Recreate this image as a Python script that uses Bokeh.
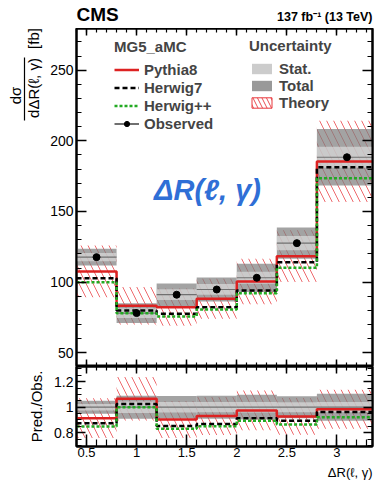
import numpy as np
from bokeh.plotting import figure
from bokeh.layouts import column, row
from bokeh.models import (ColumnDataSource, FixedTicker, LinearAxis, Label, Legend,
                          LegendItem, Range1d, CustomLabelingPolicy)
from bokeh.embed import file_html
from bokeh.resources import INLINE

# ---------------- data ----------------
bin_edges = [0.4, 0.8, 1.2, 1.6, 2.0, 2.4, 2.8, 3.4]
observed = [117.7, 78.1, 91.1, 94.8, 103.1, 127.6, 188.4]
stat_unc = [3.0, 3.5, 3.8, 3.8, 4.2, 5.0, 7.5]
total_unc = [6.0, 7.0, 8.0, 8.5, 10.0, 11.0, 20.0]
pythia8 = [107.6, 83.3, 82.3, 88.2, 100.5, 118.4, 185.4]
herwig7 = [102.8, 80.0, 77.6, 82.3, 94.1, 114.1, 181.3]
herwigpp = [100.0, 78.0, 75.7, 80.7, 92.2, 110.2, 173.5]
theory_rel_unc = [0.17, 0.16, 0.16, 0.16, 0.16, 0.155, 0.155]

x_ticks = [0.5, 1.0, 1.5, 2.0, 2.5, 3.0]
x_tick_labels = ["0.5", "1", "1.5", "2", "2.5", "3"]
top_y_ticks = [50, 100, 150, 200, 250]
top_y_tick_labels = ["50", "100", "150", "200", "250"]
ratio_y_ticks = [0.8, 1.0, 1.2]
ratio_y_tick_labels = ["0.8", "1", "1.2"]

# ---------------- derived ----------------
lo = np.array(bin_edges[:-1])
hi = np.array(bin_edges[1:])
obs = np.array(observed)
st = np.array(stat_unc)
tot = np.array(total_unc)
py = np.array(pythia8)
h7 = np.array(herwig7)
hpp = np.array(herwigpp)
thr = np.array(theory_rel_unc)

FONT = "Liberation Sans"
RED = "#dd2222"
GREEN = "#22aa22"
HATCH = "#e8383d"
DASH = "5 3"
DOT = "3 2"
NAN = [np.nan]

x_minor = [round(v, 2) for v in np.arange(0.4, 3.41, 0.1)]


def make_fig(width, height, y_range, border_bottom):
    p = figure(width=width, height=height, x_range=Range1d(0.4, 3.355),
               y_range=Range1d(*y_range), output_backend="svg", toolbar_location=None,
               min_border_left=31, min_border_right=5, min_border_top=0,
               min_border_bottom=border_bottom, x_axis_location=None, y_axis_location=None)
    p.grid.visible = False
    p.outline_line_color = "black"
    p.outline_line_width = 2
    p.background_fill_color = "white"
    p.border_fill_color = "white"
    return p


def text_fig(width, height):
    f = figure(width=width, height=height, x_range=Range1d(0, width),
               y_range=Range1d(0, height), output_backend="svg", toolbar_location=None,
               min_border=0, x_axis_location=None, y_axis_location=None)
    f.grid.visible = False
    f.outline_line_color = None
    f.background_fill_color = "white"
    f.border_fill_color = "white"
    return f


def add_axis(p, side, ticker, tick_in, minor_in, overrides=None, size="14px", standoff=3):
    ax = LinearAxis(ticker=ticker, major_tick_in=tick_in, major_tick_out=0,
                    minor_tick_in=minor_in, minor_tick_out=0, axis_line_width=2,
                    major_tick_line_width=1.5, minor_tick_line_width=1.2)
    if overrides is not None:
        ax.major_label_overrides = overrides
        ax.major_label_text_font = FONT
        ax.major_label_text_font_size = size
        ax.major_label_text_color = "black"
        ax.major_label_standoff = standoff
    else:
        ax.major_label_policy = CustomLabelingPolicy(code="return []")
        ax.major_label_text_font_size = "0px"
        ax.major_label_standoff = 0
    p.add_layout(ax, side)
    return ax


def lab(p, text, x, y, size, angle=0.0, align="center", style="normal", color="black"):
    p.add_layout(Label(x=x, y=y, x_units="screen", y_units="screen", text=text,
                       angle=angle, text_align=align, text_baseline="middle",
                       text_font=FONT, text_font_size=f"{size}px",
                       text_font_style=style, text_color=color))


def draw_panel(p, scale):
    """scale: array to divide values by (1 for absolute, obs for ratio)"""
    src = ColumnDataSource(dict(
        left=lo, right=hi,
        th_lo=py * (1 - thr) / scale, th_hi=py * (1 + thr) / scale,
        tot_lo=(obs - tot) / scale, tot_hi=(obs + tot) / scale,
        st_lo=(obs - st) / scale, st_hi=(obs + st) / scale,
        obs=obs / scale, mid=(lo + hi) / 2,
    ))
    p.quad(left="left", right="right", bottom="th_lo", top="th_hi", source=src,
           fill_alpha=0, line_alpha=0, hatch_pattern="\\", hatch_color=HATCH,
           hatch_alpha=0.75, hatch_scale=14, hatch_weight=1)
    p.quad(left="left", right="right", bottom="tot_lo", top="tot_hi", source=src,
           fill_color="#808080", fill_alpha=0.72, line_alpha=0)
    p.quad(left="left", right="right", bottom="st_lo", top="st_hi", source=src,
           fill_color="#dadada", fill_alpha=0.7, line_alpha=0)
    p.segment(x0="left", x1="right", y0="obs", y1="obs", source=src,
              line_color="#707070", line_width=1.2)
    sc = np.append(scale, scale[-1]) if np.ndim(scale) else scale
    p.step(bin_edges, np.append(py, py[-1]) / sc, mode="after",
           line_color=RED, line_width=2.5)
    p.step(bin_edges, np.append(h7, h7[-1]) / sc, mode="after",
           line_color="black", line_width=2.5, line_dash=DASH)
    p.step(bin_edges, np.append(hpp, hpp[-1]) / sc, mode="after",
           line_color=GREEN, line_width=2.5, line_dash=DOT)
    return src


# ---------------- top panel (frame: x 76..372, y 28..366) ----------------
p = make_fig(332, 338, (40.3, 279.5), 0)
x_ticker = FixedTicker(ticks=x_ticks, minor_ticks=x_minor)
ty_ticker = FixedTicker(ticks=top_y_ticks,
                        minor_ticks=[v for v in range(40, 281, 10)])
add_axis(p, "above", x_ticker, 7, 4)
add_axis(p, "below", x_ticker, 7, 4)
add_axis(p, "left", ty_ticker, 10, 5,
         overrides={t: l for t, l in zip(top_y_ticks, top_y_tick_labels)}, size="14px")
add_axis(p, "right", ty_ticker, 10, 5)

src = draw_panel(p, 1.0)
p.scatter(x="mid", y="obs", source=src, size=7, color="black")

# legend-only renderers (NaN data, never visible in the plot)
l_obs_line = p.line(NAN, NAN, line_color="#707070", line_width=2)
l_obs_pt = p.scatter(NAN, NAN, size=7, color="black")
l_py = p.line(NAN, NAN, line_color=RED, line_width=2.5)
l_h7 = p.line(NAN, NAN, line_color="black", line_width=2.5, line_dash=DASH)
l_hpp = p.line(NAN, NAN, line_color=GREEN, line_width=2.5, line_dash=DOT)
l_stat = p.quad(left=NAN, right=NAN, top=NAN, bottom=NAN, fill_color="#cccccc",
                line_alpha=0)
l_tot = p.quad(left=NAN, right=NAN, top=NAN, bottom=NAN, fill_color="#999999",
               line_alpha=0)
l_th = p.quad(left=NAN, right=NAN, top=NAN, bottom=NAN, fill_alpha=0, line_color=HATCH,
              line_width=1, hatch_pattern="\\", hatch_color=HATCH, hatch_alpha=0.9,
              hatch_scale=9, hatch_weight=1)


def style_legend(lg, spacing):
    lg.title_text_font = FONT
    lg.title_text_font_style = "bold"
    lg.title_text_font_size = "15px"
    lg.label_text_font = FONT
    lg.label_text_font_style = "bold"
    lg.label_text_font_size = "15px"
    lg.glyph_width = 25
    lg.glyph_height = 13
    lg.label_height = 13
    lg.label_standoff = 5
    lg.spacing = spacing
    lg.padding = 0
    lg.margin = 0
    lg.title_standoff = 6
    lg.border_line_alpha = 0
    lg.background_fill_alpha = 0


leg1 = Legend(items=[LegendItem(label="Pythia8", renderers=[l_py]),
                     LegendItem(label="Herwig7", renderers=[l_h7]),
                     LegendItem(label="Herwig++", renderers=[l_hpp]),
                     LegendItem(label="Observed", renderers=[l_obs_line, l_obs_pt])],
              title="MG5_aMC", location=(38, 234))
style_legend(leg1, 1)
leg2 = Legend(items=[LegendItem(label="Stat.", renderers=[l_stat]),
                     LegendItem(label="Total", renderers=[l_tot]),
                     LegendItem(label="Theory", renderers=[l_th])],
              title="Uncertainty", location=(173, 255))
style_legend(leg2, 0)
p.add_layout(leg1)
p.add_layout(leg2)

lab(p, "\u0394R(\u2113, \u03b3)", 131, 177, 29, style="bold italic", color="#2f6fd6")

# ---------------- ratio panel (frame: x 76..372, y 366..446) ----------------
r = make_fig(332, 97, (0.692, 1.319), 17)
ry_ticker = FixedTicker(ticks=ratio_y_ticks,
                        minor_ticks=[round(v, 2) for v in np.arange(0.7, 1.33, 0.05)])
add_axis(r, "above", x_ticker, 7, 4)
add_axis(r, "below", x_ticker, 12, 7,
         overrides={t: l for t, l in zip(x_ticks, x_tick_labels)}, size="13px", standoff=1)
add_axis(r, "left", ry_ticker, 9, 5,
         overrides={t: l for t, l in zip(ratio_y_ticks, ratio_y_tick_labels)}, size="14px")
add_axis(r, "right", ry_ticker, 9, 5)
draw_panel(r, obs)

# ---------------- text strips around the panels ----------------
header = text_fig(377, 28)            # covers y 0..28
lab(header, "CMS", 76, 14, 19, align="left", style="bold")
lab(header, "137 fb\u207b\u00b9 (13 TeV)", 372, 12, 12.5, align="right", style="bold")

ylab = text_fig(45, 435)              # covers x 0..45, y 28..463
lab(ylab, "d\u03c3", 15, 368, 15, angle=np.pi / 2)
lab(ylab, "d\u0394R(\u2113, \u03b3)", 33, 375.5, 15, angle=np.pi / 2)
lab(ylab, "[fb]", 33, 425, 15, angle=np.pi / 2)
ylab.segment(x0=[24], y0=[343], x1=[24], y1=[406], line_color="black", line_width=1.2)
lab(ylab, "Pred./Obs.", 35.5, 57, 15, angle=np.pi / 2)

footer = text_fig(377, 19)            # covers y 463..482
lab(footer, "\u0394R(\u2113, \u03b3)", 372, 10.5, 13, align="right")

layout = column(header, row(ylab, column(p, r, spacing=0), spacing=0), footer, spacing=0)
open("out.html", "w").write(file_html(layout, INLINE))
